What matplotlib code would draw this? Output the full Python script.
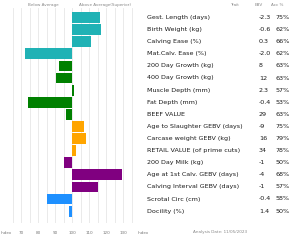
import matplotlib.pyplot as plt

traits = ['Gest. Length (days)', 'Birth Weight (kg)', 'Calving Ease (%)',
          'Mat.Calv. Ease (%)', '200 Day Growth (kg)', '400 Day Growth (kg)',
          'Muscle Depth (mm)', 'Fat Depth (mm)', 'BEEF VALUE',
          'Age to Slaughter GEBV (days)', 'Carcase weight GEBV (kg)',
          'RETAIL VALUE (of prime cuts)', '200 Day Milk (kg)',
          'Age at 1st Calv. GEBV (days)', 'Calving Interval GEBV (days)',
          'Scrotal Circ (cm)', 'Docility (%)']
ebv = ['-2.3', '-0.6', '0.3', '-2.0', '8', '12', '2.3', '-0.4', '29',
       '-9', '16', '34', '-1', '-4', '-1', '-0.4', '1.4']
acc = ['75%', '62%', '66%', '62%', '63%', '63%', '57%', '53%', '63%',
       '75%', '79%', '78%', '50%', '68%', '57%', '58%', '50%']
index = [116.5, 117, 111, 72, 92, 90.5, 101, 74, 96, 107,
         108, 102, 95, 129, 115, 85, 98]
colors = ['#20b2b5'] * 4 + ['#008000'] * 5 + ['#ffa500'] * 3 + \
         ['#800080'] * 3 + ['#1e90ff'] * 2
tick_vals = [61, 70, 80, 90, 100, 110, 120, 130, 142]
tick_labels = ['Index', '70', '80', '90', '100', '110', '120', '130', 'Index']

W, H = 302, 242
fig = plt.figure(figsize=(W / 100, H / 100), dpi=100)
ax = fig.add_axes([4.4 / W, (H - 223) / H, 139.2 / W, 215 / H])

ypos = list(range(len(traits)))
ax.barh(ypos, [v - 100 for v in index], left=100, height=0.9,
        color=colors, zorder=2)
ax.set_xlim(60, 140)
ax.set_ylim(16.98, -0.79)
for g in range(65, 140, 5):
    ax.axvline(g, color='#e6e6e6', lw=0.6, zorder=1)
ax.set_xticks(tick_vals)
ax.set_xticklabels(tick_labels, fontsize=3, color='#777777')
ax.tick_params(axis='x', length=0, pad=6)
ax.set_yticks([])
for s in ax.spines.values():
    s.set_visible(False)

# headers
ax.text(83, -1.05, 'Below Average', fontsize=3, color='#888888',
        ha='center', va='center', clip_on=False)
ax.text(119, -1.05, 'Above Average(Superior)', fontsize=3,
        color='#888888', ha='center', va='center', clip_on=False)

# table on the right
fs = 4.6
for i, t in enumerate(traits):
    y = 1 - (17.5 + 12.1 * i) / H
    fig.text(147 / W, y, t, fontsize=fs, color='#1a1a1a', va='center')
    fig.text(259 / W, y, ebv[i], fontsize=fs, color='#1a1a1a', va='center')
    fig.text(275 / W, y, acc[i], fontsize=fs, color='#1a1a1a', va='center')

hy = 1 - 5 / H
fig.text(234 / W, hy, 'Trait', fontsize=3, color='#888888', ha='center', va='center')
fig.text(259 / W, hy, 'EBV', fontsize=3, color='#888888', ha='center', va='center')
fig.text(277 / W, hy, 'Acc %', fontsize=3, color='#888888', ha='center', va='center')

fig.text(220 / W, 1 - 232 / H, 'Analysis Date: 11/05/2023', fontsize=3,
         color='#888888', ha='center', va='center')

fig.savefig('out.png', dpi=100, facecolor='white')
